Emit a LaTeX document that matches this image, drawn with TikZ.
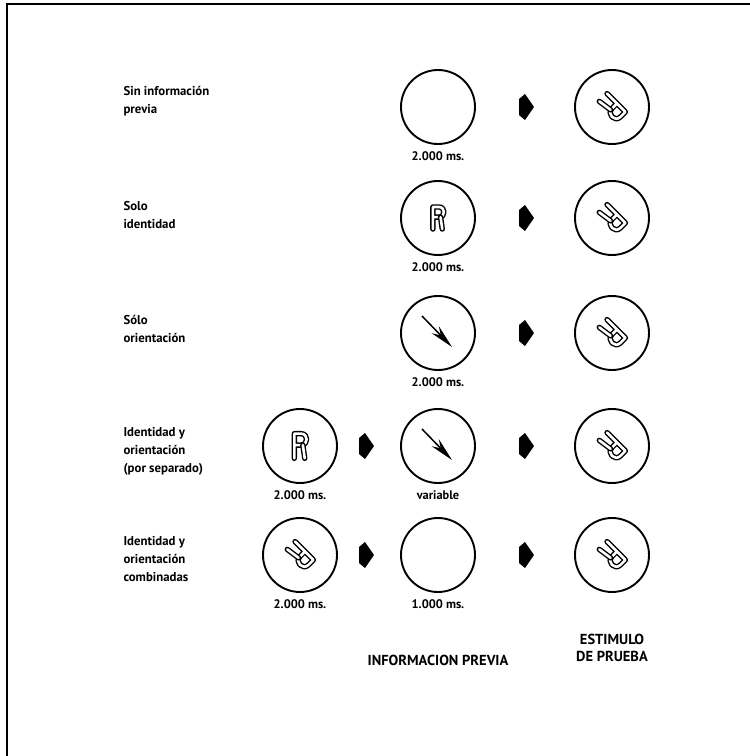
\documentclass[tikz,border=0pt]{standalone}
\usepackage{fontspec}
\setmainfont{PT Sans}
\usetikzlibrary{positioning,arrows.meta,calc}

\begin{document}
\begin{tikzpicture}[
    x=1pt, y=-1pt,
    % Styles
    disc/.style={
        draw, line width=1.9pt, circle, minimum size=74pt, inner sep=0pt,
    },
    cond/.style={
        font=\fontsize{12.8}{18}\selectfont\bfseries, align=left, anchor=west,
    },
    dur/.style={font=\fontsize{12.4}{14}\selectfont\bfseries, below=3pt of #1},
    outline/.style={
        line width=1.4pt, double=white, double distance=2.6pt,
        line join=round, line cap=round,
    },
    cue/.style={line width=1.5pt, -{Stealth[length=24pt,width=10pt]}},
    axis/.style={font=\fontsize{14.5}{17}\selectfont\bfseries, align=center},
    letterR/.pic={
        \draw[outline] (-6,13) -- (-6,-13) -- (1,-13)
            .. controls (9,-13) and (9,-1) .. (1,-1) -- (-6,-1);
        \draw[outline] (3,-1) -- (5,13);
    },
]
\useasboundingbox (0,0) rectangle (750,756);

% frame
\draw[line width=2.5pt] (7,756) -- (7,4) -- (750,4);

% ================================================================
% CONDITIONS
% ================================================================
\node[cond] (cond1) at (120,101) {Sin información\\previa};
\node[cond] (cond2) at (120,215) {Solo\\identidad};
\node[cond] (cond3) at (120,329) {Sólo\\orientación};
\node[cond] (cond4) at (120,451) {Identidad y\\orientación\\(por separado)};
\node[cond] (cond5) at (120,559) {Identidad y\\orientación\\combinadas};

% ================================================================
% PRECUES
% ================================================================
\node[disc] (info1) at (438,107) {};
\node[disc] (info2) at (438,218) {};
\node[disc] (info3) at (438,333) {};
\node[disc] (pre4) at (300,446) {};
\node[disc] (info4) at (438,446) {};
\node[disc] (pre5) at (300,555) {};
\node[disc] (info5) at (438,555) {};

\pic[scale=0.85] at (info2) {letterR};
\pic[scale=0.95] at (pre4) {letterR};
\pic[rotate=-135] at (pre5) {letterR};

% orientation cues
\draw[cue] ($(info3)+(-16,-17)$) -- ($(info3)+(14,14)$);
\draw[cue] ($(info4)+(-16,-17)$) -- ($(info4)+(14,14)$);

% durations
\node[dur=info1] (d1) {2.000 ms.};
\node[dur=info2] (d2) {2.000 ms.};
\node[dur=info3] (d3) {2.000 ms.};
\node[dur=pre4] (d4a) {2.000 ms.};
\node[dur=info4] (d4b) {variable};
\node[dur=pre5] (d5a) {2.000 ms.};
\node[dur=info5] (d5b) {1.000 ms.};

% ================================================================
% TEST STIMULI
% ================================================================
\foreach \r/\y in {1/107, 2/218, 3/333, 4/446, 5/555} {
    \node[disc] (stim\r) at (612,\y) {};
    \pic[rotate=-135] at (stim\r) {letterR};
}

% sequence marks
\foreach \ax/\ay in {525/107, 525/218, 525/333, 525/446, 525/555,
                     365/446, 365/555}
    \fill (\ax,\ay) ++(-6,-8) -- ++(6,-5) -- ++(9,13) -- ++(-9,13)
        -- ++(-6,-5) -- cycle;

% ================================================================
% AXIS LABELS
% ================================================================
\node[axis] (previa) at (438,660) {INFORMACION PREVIA};
\node[axis] (prueba) at (612,648) {ESTIMULO\\DE PRUEBA};

\end{tikzpicture}
\end{document}
